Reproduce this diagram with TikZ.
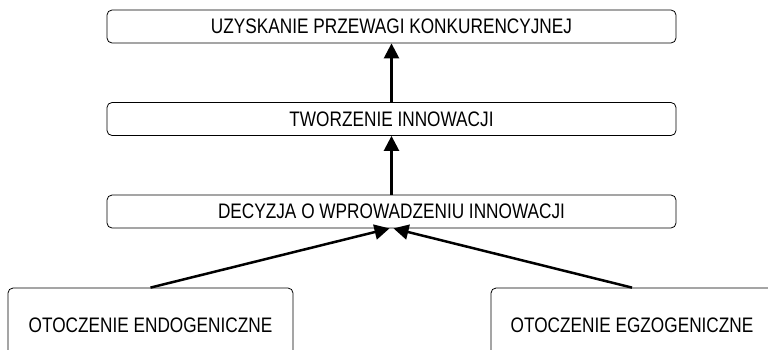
\documentclass[tikz,border=0pt]{standalone}
\usepackage{fontspec}
\setmainfont{Liberation Sans}[FakeStretch=0.82]
\usetikzlibrary{arrows.meta}

\begin{document}
\begin{tikzpicture}[x=1pt,y=-1pt,
  box/.style={draw,rounded corners=5pt,line width=0.8pt,inner sep=0pt,font=\fontsize{21}{21}\selectfont},
  arr/.style={-{Triangle[length=15pt,width=15pt]},line width=2.5pt}]
\clip (0,0) rectangle (768,349);

\node[box,minimum width=569,minimum height=33] (przewaga) at (391.5,26.5) {UZYSKANIE PRZEWAGI KONKURENCYJNEJ};
\node[box,minimum width=569,minimum height=33] (tworzenie) at (391.5,119) {TWORZENIE INNOWACJI};
\node[box,minimum width=569,minimum height=33] (decyzja) at (391.5,211.5) {DECYZJA O WPROWADZENIU INNOWACJI};
\node[box,minimum width=285,minimum height=74] (endo) at (150.5,325) {OTOCZENIE ENDOGENICZNE};
\node[box,minimum width=282,minimum height=74] (egzo) at (632,325) {OTOCZENIE EGZOGENICZNE};

\draw[arr] (tworzenie) to (przewaga);
\draw[arr] (decyzja) to (tworzenie);
\draw[arr] (endo.north) to ([xshift=-2pt]decyzja.south);
\draw[arr] (egzo.north) to ([xshift=2pt]decyzja.south);
\end{tikzpicture}
\end{document}
